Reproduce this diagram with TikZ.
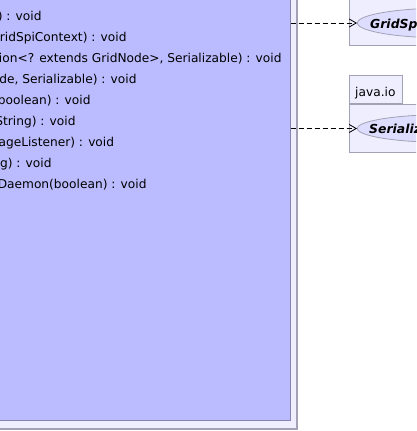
\documentclass[tikz,border=0pt]{standalone}
\usepackage{fontspec}
\setmainfont{DejaVu Sans}
\usetikzlibrary{shapes.geometric,arrows.meta}
\definecolor{clsfill}{HTML}{BBBBFF}
\definecolor{clsline}{HTML}{8484AC}
\definecolor{pkgfill}{HTML}{EEEEFF}
\definecolor{pkgline}{HTML}{A2A2B4}
\definecolor{ellfill}{HTML}{DDDDFF}
\tikzset{
  pkgbox/.style={draw=pkgline,fill=pkgfill,line width=1.2pt,inner sep=0,anchor=south east},
  clsbox/.style={draw=clsline,fill=clsfill,line width=1pt,inner sep=0,anchor=south east},
  member/.style={anchor=base east,inner sep=0,font=\fontsize{12.2}{15}\selectfont},
  iface/.style={ellipse,draw=pkgline,fill=ellfill,line width=0.8pt,minimum width=180pt,anchor=west},
  ifacename/.style={anchor=base west,inner sep=0,font=\fontsize{12.4}{15}\selectfont\bfseries\itshape},
  usage/.style={draw=black,line width=0.8pt,dash pattern=on 5pt off 3pt,-{Straight Barb[length=7pt,width=8pt]}}
}
\begin{document}
\begin{tikzpicture}[x=1pt,y=-1pt]
\useasboundingbox (0,0) rectangle (416,431);
\clip (0,0) rectangle (416,431);

% the package round the class
\node[pkgbox,minimum width=420pt,minimum height=460pt] (pkg) at (297.5,429.5) {};
\node[clsbox,minimum width=420pt,minimum height=450pt] (cls) at (290.5,421) {};

% members, cut at the left edge
\node[member] (m1) at (41.7,20.5) {) : void};
\node[member] (m2) at (126.7,41.5) {GridSpiContext) : void};
\node[member] (m3) at (281.7,62.5) {ion<? extends GridNode>, Serializable) : void};
\node[member] (m4) at (136.7,83.5) {de, Serializable) : void};
\node[member] (m5) at (90.7,104.5) {boolean) : void};
\node[member] (m6) at (75.7,125.5) {String) : void};
\node[member] (m7) at (114.3,146.5) {ageListener) : void};
\node[member] (m8) at (51.7,167.5) {ng) : void};
\node[member] (m9) at (146.7,188.5) {Daemon(boolean) : void};

% packages on the right
\node[draw=pkgline,fill=pkgfill,line width=1.2pt,inner sep=0,anchor=south west,
      minimum width=100pt,minimum height=80pt] (spipkg) at (348.5,46) {};
\node[draw=pkgline,fill=pkgfill,line width=1.2pt,inner sep=0,anchor=south west,
      minimum width=53.5pt,minimum height=28pt] (iotab) at (348.5,104) {};
\node[anchor=base west,inner sep=0,font=\fontsize{12.2}{15}\selectfont] (ioname) at (355,96) {java.io};
\node[draw=pkgline,fill=pkgfill,line width=1.2pt,inner sep=0,anchor=north west,
      minimum width=100pt,minimum height=48pt] (iopkg) at (348.5,104) {};

\node[iface,minimum height=30pt] (gridspi) at (357,23) {};
\node[ifacename] (gridspiname) at (370,28.5) {GridSpi};
\node[iface,minimum height=28pt] (serial) at (357,128.5) {};
\node[ifacename] (serialname) at (369,133) {Serializable};

% dependencies
\draw[usage] (cls.east |- gridspi.west) -- (gridspi.west);
\draw[usage] (cls.east |- serial.west) -- (serial.west);
\end{tikzpicture}
\end{document}
